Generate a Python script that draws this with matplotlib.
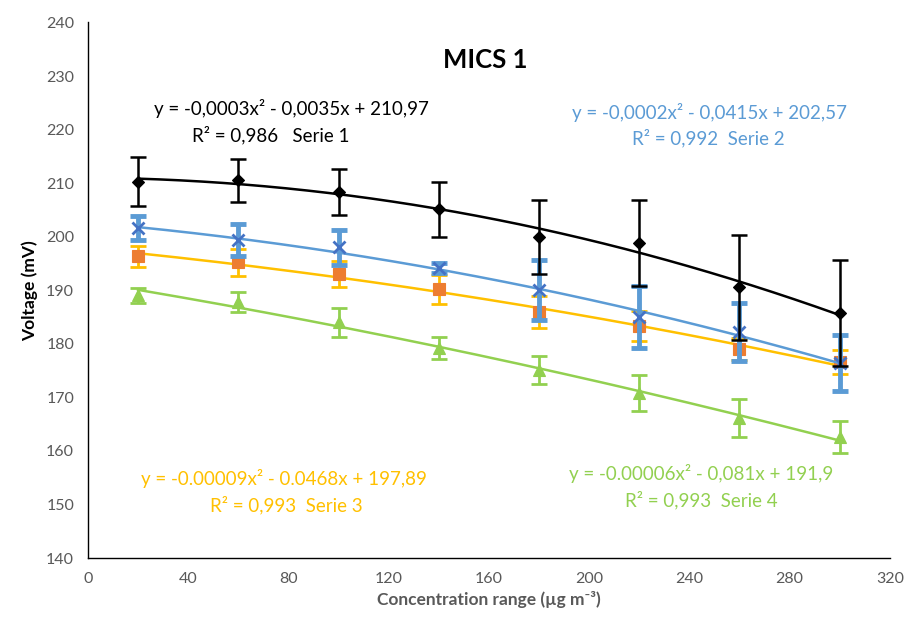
import numpy as np
import matplotlib
matplotlib.use('Agg')
import matplotlib.pyplot as plt

plt.rcParams['font.family'] = ['Lato', 'DejaVu Sans']

conc = [20, 60, 100, 140, 180, 220, 260, 300]

serie1 = [210.3, 210.5, 208.4, 205.1, 199.9, 198.8, 190.6, 185.7]
err1 = [4.5, 4.0, 4.3, 5.2, 6.9, 8.0, 9.8, 9.9]
serie2 = [201.6, 199.3, 198.0, 194.1, 190.0, 185.0, 182.2, 176.4]
err2 = [2.3, 3.0, 3.2, 0.9, 5.6, 5.7, 5.4, 5.2]
serie3 = [196.3, 195.2, 193.0, 190.2, 185.9, 183.3, 179.0, 176.6]
err3 = [2.0, 2.5, 2.4, 2.7, 3.0, 2.8, 2.0, 2.2]
serie4 = [189.1, 187.8, 184.0, 179.2, 175.1, 170.8, 166.1, 162.6]
err4 = [1.4, 1.8, 2.7, 2.1, 2.7, 3.3, 3.5, 3.0]

fig = plt.figure(figsize=(9.07, 6.17), dpi=100)
ax = fig.add_axes([0.097, 0.0956, 0.884, 0.868])

xfit = np.linspace(20, 300, 200)

def draw(y, err, mcol, ecol, lcol, marker, ms, elw, z):
    c = np.polyfit(conc, y, 2)
    ax.plot(xfit, np.polyval(c, xfit), color=lcol, lw=1.8, zorder=z)
    ax.errorbar(conc, y, yerr=err, fmt='none', ecolor=ecol, elinewidth=elw,
                capsize=6, capthick=elw, zorder=z + 1)
    ax.plot(conc, y, linestyle='none', marker=marker, ms=ms, color=mcol,
            markeredgecolor=mcol, markeredgewidth=2 if marker == 'x' else 0.8,
            zorder=z + 2)

draw(serie4, err4, '#92D050', '#92D050', '#92D050', '^', 9, 2.0, 2)
draw(serie3, err3, '#ED7D31', '#FFC000', '#FFC000', 's', 9, 2.0, 5)
draw(serie2, err2, '#4472C4', '#5B9BD5', '#5B9BD5', 'x', 9, 3.5, 8)
draw(serie1, err1, 'black', 'black', 'black', 'D', 6, 1.8, 11)

ax.set_xlim(0, 320)
ax.set_ylim(140, 240)
ax.set_xticks(np.arange(0, 321, 40))
ax.set_yticks(np.arange(140, 241, 10))
ax.tick_params(length=0, labelsize=11.5, colors='#595959', pad=10)
for s in ['top', 'right']:
    ax.spines[s].set_visible(False)
for s in ['left', 'bottom']:
    ax.spines[s].set_color('black')
    ax.spines[s].set_linewidth(1)

ax.set_xlabel('Concentration range (µg m⁻³)', fontsize=12.5, fontweight='bold',
              color='#595959', labelpad=4)
ax.set_ylabel('Voltage (mV)', fontsize=12.5, fontweight='bold', color='black', labelpad=6)

ax.text(158.4, 232.9, 'MICS 1', fontsize=18.5,
        fontweight='bold', ha='center', va='center')

fs = 13.5
ax.text(81.4, 224.0, 'y = -0,0003x² - 0,0035x + 210,97', fontsize=fs, ha='center', va='center', color='black')
ax.text(73, 218.9, 'R² = 0,986   Serie 1', fontsize=fs, ha='center', va='center', color='black')
ax.text(248, 223.2, 'y = -0,0002x² - 0,0415x + 202,57', fontsize=fs, ha='center', va='center', color='#5B9BD5')
ax.text(247.5, 218.4, 'R² = 0,992  Serie 2', fontsize=fs, ha='center', va='center', color='#5B9BD5')
ax.text(78.2, 154.9, 'y = -0.00009x² - 0.0468x + 197,89', fontsize=fs, ha='center', va='center', color='#FFC000')
ax.text(79, 149.9, 'R² = 0,993  Serie 3', fontsize=fs, ha='center', va='center', color='#FFC000')
ax.text(244.6, 155.7, 'y = -0.00006x² - 0,081x + 191,9', fontsize=fs, ha='center', va='center', color='#92D050')
ax.text(244.6, 150.8, 'R² = 0,993  Serie 4', fontsize=fs, ha='center', va='center', color='#92D050')

fig.savefig('out.png', dpi=100)
